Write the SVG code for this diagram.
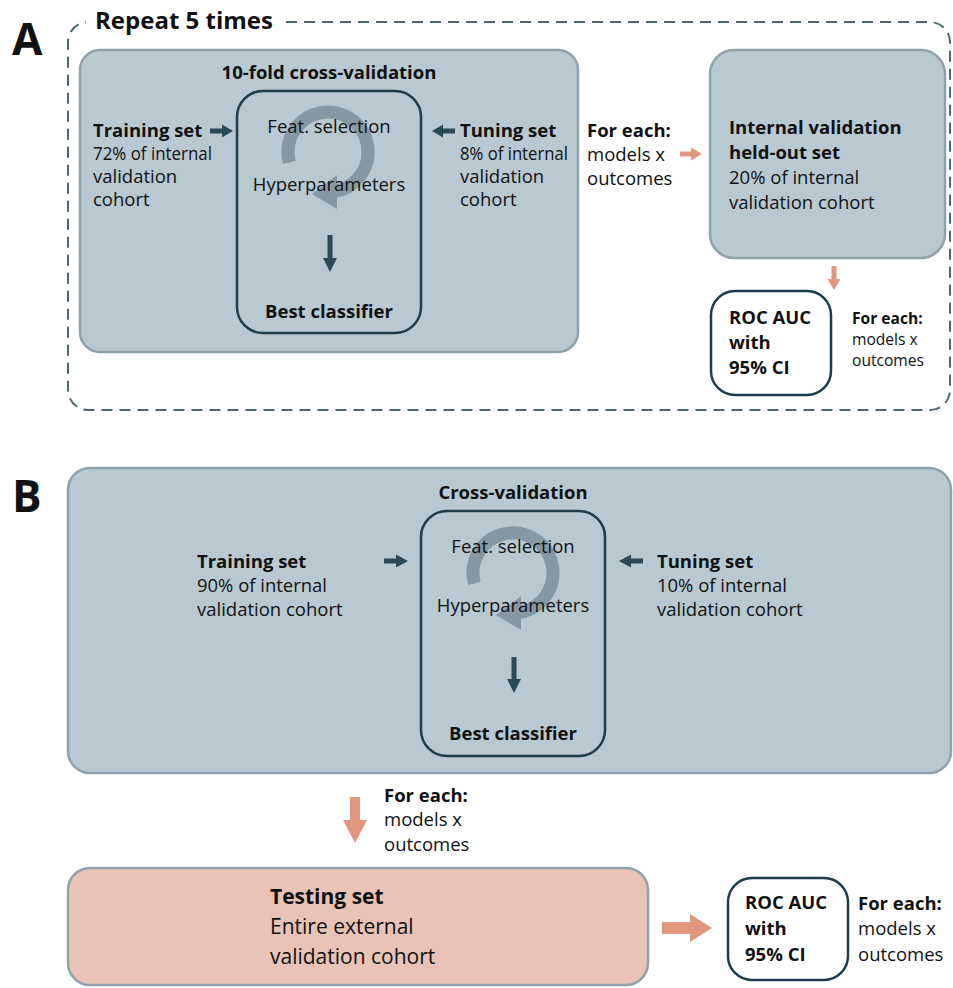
<svg xmlns="http://www.w3.org/2000/svg" width="953" height="988" viewBox="0 0 953 988">
<style>
text{font-family:"Open Sans",Lato,"Liberation Sans",sans-serif;fill:#111;}
.b{font-weight:bold;}
.t{font-size:18.5px;}
.s{font-size:15.6px;}
.big{font-size:21px;}
.box{fill:#b9c9d1;stroke:#8fa2ab;stroke-width:2.5;}
.inner{fill:none;stroke:#1e3d4c;stroke-width:2.5;}
.roc{fill:#fff;stroke:#1e3d4c;stroke-width:2.5;}
.dark{fill:#2b4a59;}
.sal{fill:#e0977d;}
.circ{fill:none;stroke:#8599a5;stroke-width:13;}
.circh{fill:#8599a5;}
</style>
<rect width="953" height="988" fill="#fff"/>
<g id="labels">
<text x="12" y="55" class="b" style="font-size:44px">A</text>
<text x="12" y="512" class="b" style="font-size:44px">B</text>
</g>
<g id="repeat">
<rect x="68" y="22" width="882" height="388" rx="20" fill="none" stroke="#4d6670" stroke-width="2" stroke-dasharray="11 7"/>
<rect x="86" y="6" width="196" height="30" fill="#fff"/>
<text x="95" y="29" class="b" style="font-size:24px">Repeat 5 times</text>
</g>
<g id="cvA">
<rect x="80" y="50" width="498" height="302" rx="20" class="box"/>
<text x="329" y="79" class="b t" text-anchor="middle">10-fold cross-validation</text>
</g>
<g id="innerA">
<rect x="237" y="91" width="184" height="242" rx="26" class="inner"/>
<path d="M289.4,162.4 A40,40 0 1 1 335,191.4" class="circ"/>
<polygon points="337,175 337,209 312,194" class="circh"/>
<text x="329" y="133" class="t" text-anchor="middle">Feat. selection</text>
<text x="329" y="191" class="t" text-anchor="middle">Hyperparameters</text>
<text x="329" y="318" class="b t" text-anchor="middle">Best classifier</text>
</g>
<g id="trainA">
<text x="93" y="137" class="b t">Training set</text>
<text x="93" y="160" class="t" textLength="119" lengthAdjust="spacingAndGlyphs">72% of internal</text>
<text x="93" y="183" class="t">validation</text>
<text x="93" y="206" class="t">cohort</text>
</g>
<g id="tuneA">
<text x="460" y="137" class="b t">Tuning set</text>
<text x="460" y="160" class="t" textLength="108" lengthAdjust="spacingAndGlyphs">8% of internal</text>
<text x="460" y="183" class="t">validation</text>
<text x="460" y="206" class="t">cohort</text>
</g>
<g id="foreachA1">
<text x="587" y="137" class="b t">For each:</text>
<text x="587" y="161" class="t">models  x</text>
<text x="587" y="185" class="t">outcomes</text>
</g>
<g id="heldout">
<rect x="710" y="50" width="235" height="208" rx="24" class="box"/>
<text x="729" y="134" class="b t">Internal validation</text>
<text x="729" y="159" class="b t">held-out set</text>
<text x="729" y="184" class="t">20% of internal</text>
<text x="729" y="209" class="t">validation cohort</text>
</g>
<g id="rocA">
<rect x="711" y="291" width="120" height="104" rx="24" class="roc"/>
<text x="729" y="324" class="b t">ROC AUC</text>
<text x="729" y="349" class="b t">with</text>
<text x="729" y="374" class="b t">95% CI</text>
</g>
<g id="foreachA2">
<text x="852" y="324" class="b s">For each:</text>
<text x="852" y="345" class="s">models x</text>
<text x="852" y="366" class="s">outcomes</text>
</g>
<g id="cvB">
<rect x="68" y="468" width="883" height="305" rx="22" class="box"/>
<text x="513" y="499" class="b t" text-anchor="middle">Cross-validation</text>
</g>
<g id="innerB">
<rect x="421" y="511" width="184" height="245" rx="26" class="inner"/>
<path d="M474.4,583.4 A40,40 0 1 1 519,612.4" class="circ"/>
<polygon points="521,596 521,630 496,615" class="circh"/>
<text x="513" y="553" class="t" text-anchor="middle">Feat. selection</text>
<text x="513" y="612" class="t" text-anchor="middle">Hyperparameters</text>
<text x="513" y="740" class="b t" text-anchor="middle">Best classifier</text>
</g>
<g id="trainB">
<text x="197" y="568" class="b t">Training set</text>
<text x="197" y="592" class="t" textLength="130" lengthAdjust="spacingAndGlyphs">90% of internal</text>
<text x="197" y="616" class="t">validation cohort</text>
</g>
<g id="tuneB">
<text x="657" y="568" class="b t">Tuning set</text>
<text x="657" y="592" class="t" textLength="130" lengthAdjust="spacingAndGlyphs">10% of internal</text>
<text x="657" y="616" class="t">validation cohort</text>
</g>
<g id="foreachB1">
<text x="384" y="802" class="b t">For each:</text>
<text x="384" y="826" class="t">models  x</text>
<text x="384" y="851" class="t">outcomes</text>
</g>
<g id="testing">
<rect x="68" y="868" width="580" height="117" rx="22" fill="#e9c3b5" stroke="#8fa2ab" stroke-width="2.5"/>
<text x="270" y="904" class="b big">Testing set</text>
<text x="270" y="934" class="big">Entire external</text>
<text x="270" y="964" class="big">validation cohort</text>
</g>
<g id="rocB">
<rect x="728" y="878" width="120" height="102" rx="24" class="roc"/>
<text x="745" y="909" class="b t">ROC AUC</text>
<text x="745" y="935" class="b t">with</text>
<text x="745" y="961" class="b t">95% CI</text>
</g>
<g id="foreachB2">
<text x="858" y="910" class="b t">For each:</text>
<text x="858" y="935" class="t">models  x</text>
<text x="858" y="961" class="t">outcomes</text>
</g>
<g id="connectors">
<polygon class="dark" points="210,128.5 222,128.5 222,124.5 233,131 222,137.5 222,133.5 210,133.5"/>
<polygon class="dark" points="455,128.5 443,128.5 443,124.5 432,131 443,137.5 443,133.5 455,133.5"/>
<polygon class="dark" points="327.5,235 332.5,235 332.5,258 337,258 330,272 323,258 327.5,258"/>
<polygon class="sal" points="680,151.5 691,151.5 691,147.5 702,154 691,160.5 691,156.5 680,156.5"/>
<polygon class="sal" points="831.5,266 836.5,266 836.5,279 840.5,279 834,290 827.5,279 831.5,279"/>
<polygon class="dark" points="384,558.5 396,558.5 396,554.5 408,561 396,567.5 396,563.5 384,563.5"/>
<polygon class="dark" points="643,558.5 631,558.5 631,554.5 619,561 631,567.5 631,563.5 643,563.5"/>
<polygon class="dark" points="511.5,657 516.5,657 516.5,679 521,679 514,693 507,679 511.5,679"/>
<polygon class="sal" points="350,797 360,797 360,820 367,820 355,843 343,820 350,820"/>
<polygon class="sal" points="662,922 690,922 690,914 712,928 690,942 690,934 662,934"/>
</g>
</svg>
